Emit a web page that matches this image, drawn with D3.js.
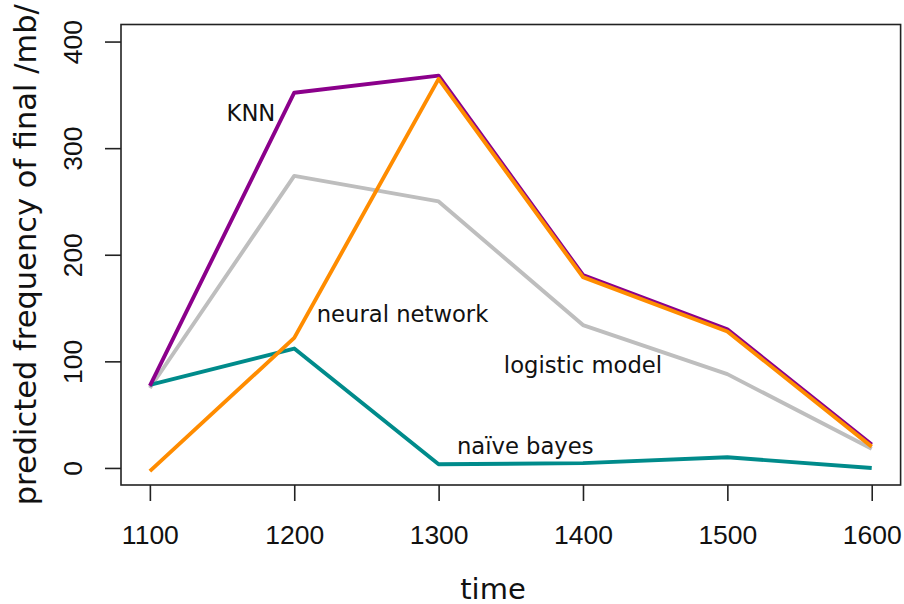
<!DOCTYPE html>
<html>
<head>
<meta charset="utf-8">
<script src="https://cdn.jsdelivr.net/npm/d3@7"></script>
<style>
  body { margin: 0; background: #fff; }
  svg { display: block; }
</style>
</head>
<body>
<svg id="chart" width="904" height="604"></svg>
<script>
// data
var years = [1100, 1200, 1300, 1400, 1500, 1600];
var knn = [77, 352, 368, 181, 130, 22];
var neural = [-3, 122, 365, 179, 128, 20];
var logistic = [75, 274, 250, 134, 88, 18];
var naive = [78, 112, 3.5, 4.5, 10, 0];
var yTicks = [0, 100, 200, 300, 400];

var labels = [
  { text: 'KNN', x: 1170, y: 333 },
  { text: 'neural network', x: 1275, y: 145 },
  { text: 'logistic model', x: 1400, y: 97 },
  { text: 'naïve bayes', x: 1360, y: 21 }
];

var svg = d3.select('#chart');

//Plot region (R style, 4% padding on each axis)
var plotLeft = 121, plotRight = 900.6, plotTop = 24.5, plotBottom = 485;

var xScale = d3.scaleLinear().domain([1080, 1620]).range([plotLeft, plotRight]);
var yScale = d3.scaleLinear().domain([-16, 416]).range([plotBottom, plotTop]);

//Lines, drawn back to front
var series = [
  { values: logistic, color: '#bebebe' },
  { values: naive, color: '#008b8b' },
  { values: knn, color: '#8b008b' },
  { values: neural, color: '#ff8c00' }
];

var line = d3.line()
  .x(function (d, i) { return xScale(years[i]); })
  .y(function (d) { return yScale(d); });

svg.selectAll('path.series').data(series).enter().append('path')
  .classed('series', true)
  .attr('d', function (d) { return line(d.values); })
  .attr('fill', 'none')
  .attr('stroke', function (d) { return d.color; })
  .attr('stroke-width', 3.9)
  .attr('stroke-linejoin', 'round');

//Line labels
svg.selectAll('text.lab').data(labels).enter().append('text')
  .classed('lab', true)
  .attr('x', function (d) { return xScale(d.x); })
  .attr('y', function (d) { return yScale(d.y); })
  .attr('dy', '0.36em')
  .attr('text-anchor', 'middle')
  .style('font-family', '"DejaVu Sans", sans-serif')
  .style('font-size', '22.7px')
  .attr('fill', '#111')
  .text(function (d) { return d.text; });

//Box
svg.append('rect')
  .attr('x', plotLeft).attr('y', plotTop)
  .attr('width', plotRight - plotLeft).attr('height', plotBottom - plotTop)
  .attr('fill', 'none').attr('stroke', '#222').attr('stroke-width', 1.6);

//X axis
var xAxis = svg.append('g')
  .attr('transform', 'translate(0,' + plotBottom + ')')
  .call(d3.axisBottom(xScale).tickValues(years).tickSize(16).tickFormat(d3.format('d')));
xAxis.select('.domain').remove();
xAxis.selectAll('.tick line').attr('stroke', '#222').attr('stroke-width', 1.6);
xAxis.selectAll('.tick text')
  .attr('y', 59).attr('dy', 0)
  .attr('fill', '#111')
  .style('font-family', '"Liberation Sans", Arial, sans-serif')
  .style('font-size', '26.5px');

//Y axis with rotated labels
var yAxis = svg.append('g')
  .attr('transform', 'translate(' + plotLeft + ',0)')
  .call(d3.axisLeft(yScale).tickValues(yTicks).tickSize(16));
yAxis.select('.domain').remove();
yAxis.selectAll('.tick line').attr('stroke', '#222').attr('stroke-width', 1.6);
yAxis.selectAll('.tick text')
  .attr('transform', 'rotate(-90)')
  .attr('x', 0).attr('y', -39).attr('dy', 0)
  .attr('text-anchor', 'middle')
  .attr('fill', '#111')
  .style('font-family', '"Liberation Sans", Arial, sans-serif')
  .style('font-size', '26.5px');

//Axis titles
svg.append('text')
  .attr('x', 493).attr('y', 599)
  .attr('text-anchor', 'middle')
  .style('font-family', '"DejaVu Sans", sans-serif')
  .style('font-size', '29px')
  .attr('fill', '#111')
  .text('time');

svg.append('text')
  .attr('transform', 'translate(36,' + (plotTop + plotBottom) / 2 + ') rotate(-90)')
  .attr('text-anchor', 'middle')
  .style('font-family', '"DejaVu Sans", sans-serif')
  .style('font-size', '30.5px')
  .attr('fill', '#111')
  .text('predicted frequency of final /mb/');
</script>
</body>
</html>
